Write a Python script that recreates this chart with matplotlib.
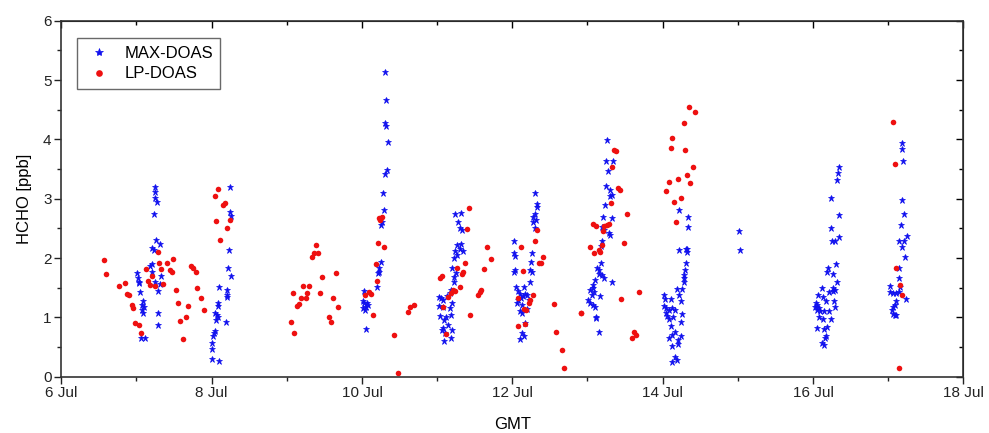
import numpy as np
import matplotlib.pyplot as plt
from matplotlib.ticker import MultipleLocator

plt.rcParams['font.family'] = ['Liberation Sans', 'DejaVu Sans']

# day of July (GMT) and HCHO in ppb
max_day = [7.25, 7.25, 7.24, 7.27, 7.23, 7.26, 7.31, 7.21, 7.23, 7.21, 7.18, 7.20, 7.01, 7.33, 7.02,
           7.04, 7.03, 7.24, 7.31, 7.28, 7.05, 7.09, 7.07, 7.10, 7.08, 7.09, 7.29, 7.29, 7.06, 7.11,
           8.25, 8.24, 8.26, 8.23, 8.22, 8.26, 8.10, 8.21, 8.20, 8.20, 8.08, 8.08, 8.05, 8.07, 8.09,
           8.06, 8.19, 8.04, 8.03, 8.02, 8.00, 8.01, 8.00, 8.10,
           10.31, 10.32, 10.30, 10.32, 10.34, 10.33, 10.30, 10.28, 10.29, 10.26, 10.25, 10.25, 10.22,
           10.23, 10.21, 10.20, 10.03, 10.01, 10.03, 10.07, 10.05, 10.08, 10.02, 10.04, 10.05,
           11.24, 11.32, 11.28, 11.31, 11.33, 11.32, 11.26, 11.30, 11.24, 11.34, 11.26, 11.23, 11.20,
           11.25, 11.23, 11.22, 11.18, 11.17, 11.02, 11.05, 11.08, 11.13, 11.20, 11.03, 11.08, 11.17,
           11.04, 11.12, 11.09, 11.18, 11.08, 11.15, 11.06, 11.10, 11.20, 11.09, 11.18,
           12.30, 12.33, 12.33, 12.30, 12.28, 12.32, 12.27, 12.30, 12.02, 12.02, 12.04, 12.26, 12.25,
           12.04, 12.02, 12.24, 12.26, 12.23, 12.05, 12.15, 12.07, 12.10, 12.14, 12.17, 12.19, 12.11,
           12.08, 12.22, 12.06, 12.13, 12.10, 12.13, 12.19, 12.17, 12.13, 12.15, 12.10,
           13.26, 13.25, 13.34, 13.27, 13.25, 13.30, 13.32, 13.30, 13.23, 13.21, 13.33, 13.20, 13.22,
           13.28, 13.30, 13.19, 13.18, 13.18, 13.13, 13.16, 13.15, 13.19, 13.22, 13.10, 13.32, 13.08,
           13.07, 13.04, 13.09, 13.06, 13.17, 13.01, 13.04, 13.07, 13.10, 13.12, 13.12, 13.15,
           14.22, 14.34, 14.34, 14.22, 14.31, 14.33, 14.32, 14.31, 14.30, 14.29, 14.28, 14.28, 14.19,
           14.26, 14.22, 14.24, 14.02, 14.03, 14.11, 14.02, 14.05, 14.09, 14.13, 14.16, 14.05, 14.06,
           14.09, 14.14, 14.26, 14.11, 14.24, 14.16, 14.08, 14.13, 14.25, 14.21, 14.20, 14.13, 14.16,
           14.19, 14.12,
           15.02, 15.03,
           16.34, 16.33, 16.32, 16.24, 16.35, 16.24, 16.25, 16.29, 16.35, 16.30, 16.20, 16.19, 16.27,
           16.32, 16.26, 16.29, 16.27, 16.22, 16.12, 16.07, 16.13, 16.17, 16.28, 16.04, 16.03, 16.06,
           16.08, 16.05, 16.29, 16.10, 16.15, 16.22, 16.08, 16.13, 16.24, 16.19, 16.05, 16.15, 16.17,
           16.16, 16.12, 16.15,
           17.19, 17.18, 17.20, 17.18, 17.21, 17.17, 17.25, 17.14, 17.21, 17.19, 17.22, 17.15, 17.14,
           17.03, 17.16, 17.02, 17.07, 17.10, 17.14, 17.24, 17.11, 17.09, 17.06, 17.05, 17.06, 17.09,
           17.11]
max_val = [3.19, 3.12, 3.01, 2.94, 2.74, 2.31, 2.24, 2.17, 2.14, 1.90, 1.86, 1.77, 1.74, 1.69, 1.66,
           1.60, 1.58, 1.59, 1.56, 1.45, 1.43, 1.27, 1.21, 1.18, 1.13, 1.07, 1.07, 0.88, 0.65, 0.65,
           3.19, 2.77, 2.71, 2.13, 1.84, 1.69, 1.51, 1.47, 1.38, 1.35, 1.25, 1.19, 1.07, 1.04, 1.00,
           0.96, 0.93, 0.77, 0.73, 0.69, 0.56, 0.46, 0.30, 0.27,
           5.14, 4.67, 4.27, 4.22, 3.95, 3.49, 3.41, 3.10, 2.81, 2.61, 2.56, 1.93, 1.83,
           1.77, 1.74, 1.51, 1.45, 1.27, 1.24, 1.24, 1.18, 1.21, 1.15, 1.13, 0.80,
           2.74, 2.76, 2.60, 2.51, 2.47, 2.24, 2.22, 2.15, 2.12, 2.12, 2.05, 2.00, 1.84,
           1.75, 1.68, 1.59, 1.46, 1.41, 1.34, 1.32, 1.30, 1.36, 1.24, 1.19, 1.18, 1.15,
           1.02, 1.01, 0.95, 1.04, 0.82, 0.87, 0.79, 0.74, 0.78, 0.61, 0.66,
           3.10, 2.91, 2.86, 2.74, 2.70, 2.64, 2.60, 2.50, 2.29, 2.09, 2.04, 2.08, 1.94,
           1.80, 1.76, 1.80, 1.76, 1.60, 1.51, 1.51, 1.45, 1.40, 1.36, 1.40, 1.38, 1.32,
           1.29, 1.29, 1.25, 1.21, 1.10, 1.07, 1.14, 0.90, 0.73, 0.68, 0.63,
           3.99, 3.64, 3.63, 3.46, 3.22, 3.15, 3.06, 3.05, 2.90, 2.70, 2.68, 2.53, 2.47,
           2.42, 2.39, 2.28, 2.20, 1.91, 1.84, 1.80, 1.73, 1.72, 1.66, 1.63, 1.59, 1.55,
           1.49, 1.46, 1.43, 1.38, 1.36, 1.29, 1.24, 1.21, 1.18, 1.01, 0.99, 0.75,
           2.81, 2.70, 2.53, 2.14, 2.15, 2.16, 2.11, 1.91, 1.80, 1.72, 1.67, 1.59, 1.48,
           1.48, 1.38, 1.28, 1.37, 1.31, 1.31, 1.20, 1.15, 1.12, 1.15, 1.12, 1.07, 1.03,
           0.97, 1.01, 1.06, 0.86, 0.92, 0.76, 0.65, 0.70, 0.68, 0.62, 0.55, 0.51, 0.34,
           0.28, 0.25,
           2.45, 2.14,
           3.53, 3.44, 3.32, 3.02, 2.73, 2.50, 2.28, 2.28, 2.35, 1.90, 1.83, 1.77, 1.73,
           1.59, 1.49, 1.47, 1.45, 1.43, 1.49, 1.38, 1.35, 1.27, 1.27, 1.24, 1.18, 1.21,
           1.15, 1.13, 1.17, 1.10, 1.10, 1.10, 1.01, 0.98, 0.97, 0.84, 0.82, 0.80, 0.69,
           0.65, 0.57, 0.53,
           3.94, 3.84, 3.63, 2.98, 2.74, 2.56, 2.38, 2.28, 2.28, 2.19, 2.02, 1.84, 1.66,
           1.53, 1.52, 1.43, 1.41, 1.41, 1.42, 1.31, 1.27, 1.21, 1.18, 1.12, 1.06, 1.04,
           1.04]

lp_day = [6.57, 6.60, 6.77, 6.85, 6.87, 6.90, 6.94, 6.96, 6.98, 7.04, 7.06, 7.12, 7.15, 7.18, 7.21,
          7.25, 7.28, 7.30, 7.32, 7.35, 7.41, 7.44, 7.47, 7.49, 7.52, 7.55, 7.58, 7.62, 7.66, 7.68,
          7.72, 7.75, 7.79, 7.81, 7.86, 7.90,
          8.08, 8.04, 8.15, 8.18, 8.06, 8.24, 8.21, 8.11,
          9.39, 9.36, 9.41, 9.33, 9.47, 9.65, 9.21, 9.30, 9.08, 9.27, 9.44, 9.19, 9.25, 9.16, 9.13,
          9.62, 9.68, 9.56, 9.59, 9.05, 9.10,
          10.23, 10.26, 10.24, 10.21, 10.29, 10.18, 10.20, 10.10, 10.12, 10.04, 10.15, 10.43, 10.48,
          10.61, 10.64, 10.69,
          11.42, 11.40, 11.37, 11.35, 11.33, 11.27, 11.30, 11.06, 11.04, 11.21, 11.24, 11.18, 11.15,
          11.08, 11.44, 11.12, 11.67, 11.72, 11.63, 11.59, 11.57, 11.55,
          12.33, 12.30, 12.11, 12.41, 12.38, 12.36, 12.14, 12.27, 12.24, 12.22, 12.08, 12.16, 12.18,
          12.07, 12.17, 12.56, 12.58, 12.66, 12.69, 12.92,
          13.35, 13.38, 13.33, 13.40, 13.43, 13.31, 13.52, 13.07, 13.12, 13.26, 13.28, 13.22, 13.21,
          13.49, 13.04, 13.09, 13.15, 13.17, 13.19, 13.68, 13.45, 12.92, 13.62, 13.65, 13.59,
          14.35, 14.43, 14.28, 14.13, 14.11, 14.30, 14.40, 14.32, 14.20, 14.37, 14.08, 14.05, 14.24,
          14.15, 14.18,
          17.06, 17.09, 17.11, 17.16, 17.19, 17.14]
lp_val = [1.97, 1.73, 1.53, 1.58, 1.40, 1.38, 1.21, 1.15, 0.91, 0.87, 0.74, 1.82, 1.62, 1.55, 1.69,
          1.53, 2.11, 1.91, 1.82, 1.56, 1.92, 1.80, 1.76, 1.99, 1.46, 1.24, 0.94, 0.63, 1.00, 1.19,
          1.86, 1.83, 1.76, 1.49, 1.32, 1.13,
          3.17, 3.04, 2.90, 2.92, 2.63, 2.64, 2.51, 2.31,
          2.22, 2.09, 2.09, 2.01, 1.68, 1.75, 1.53, 1.53, 1.41, 1.41, 1.41, 1.33, 1.33, 1.23, 1.19,
          1.33, 1.17, 1.00, 0.93, 0.92, 0.73,
          2.67, 2.69, 2.64, 2.26, 2.19, 1.90, 1.62, 1.43, 1.39, 1.37, 1.04, 0.71, 0.06,
          1.09, 1.18, 1.21,
          2.84, 2.49, 1.91, 1.77, 1.73, 1.83, 1.52, 1.70, 1.66, 1.46, 1.45, 1.41, 1.35,
          1.18, 1.04, 0.72, 2.18, 1.98, 1.82, 1.46, 1.42, 1.38,
          2.47, 2.29, 2.18, 2.01, 1.92, 1.92, 1.79, 1.37, 1.29, 1.24, 1.32, 1.14, 1.13,
          0.86, 0.89, 1.22, 0.75, 0.45, 0.14, 1.07,
          3.83, 3.80, 3.54, 3.18, 3.15, 2.92, 2.74, 2.58, 2.54, 2.56, 2.57, 2.54, 2.46,
          2.25, 2.19, 2.09, 2.14, 2.11, 2.22, 1.42, 1.31, 1.08, 0.75, 0.70, 0.65,
          4.54, 4.46, 4.27, 4.02, 3.85, 3.82, 3.54, 3.40, 3.33, 3.26, 3.29, 3.13, 3.01,
          2.94, 2.61,
          4.30, 3.59, 1.83, 1.55, 1.38, 0.14]

day_ticks = [6, 8, 10, 12, 14, 16, 18]
day_labels = ['6 Jul', '8 Jul', '10 Jul', '12 Jul', '14 Jul', '16 Jul', '18 Jul']

fig = plt.figure(figsize=(9.89, 4.33), dpi=100)
ax = fig.add_axes([0.062, 0.130, 0.912, 0.822])

ax.plot(max_day, max_val, linestyle='none', marker='*', color='#1010ee',
        markersize=5, markeredgewidth=0.5, label='MAX-DOAS')
ax.plot(lp_day, lp_val, linestyle='none', marker='o', color='#ee1010',
        markersize=4, markeredgewidth=0, label='LP-DOAS')

ax.set_xlim(6, 18)
ax.set_ylim(0, 6)
ax.set_xticks(day_ticks)
ax.set_xticklabels(day_labels)
ax.xaxis.set_minor_locator(MultipleLocator(1))
ax.yaxis.set_minor_locator(MultipleLocator(0.5))
ax.tick_params(which='major', direction='out', length=5, width=1, labelsize=11,
               colors='#222222', pad=2)
ax.tick_params(which='minor', direction='out', length=3, width=1, colors='#222222')

# mirrored ticks on top and right, pointing inward
top = ax.secondary_xaxis('top')
top.set_xticks(day_ticks)
top.xaxis.set_minor_locator(MultipleLocator(1))
top.tick_params(which='major', direction='in', length=5, width=1, labeltop=False)
top.tick_params(which='minor', direction='in', length=3, width=1)
right = ax.secondary_yaxis('right')
right.yaxis.set_minor_locator(MultipleLocator(0.5))
right.tick_params(which='major', direction='in', length=5, width=1, labelright=False)
right.tick_params(which='minor', direction='in', length=3, width=1)

for s in ax.spines.values():
    s.set_linewidth(1.2)
    s.set_color('#333333')

ax.set_xlabel('GMT', fontsize=12, labelpad=12)
ax.set_ylabel('HCHO [ppb]', fontsize=12, labelpad=8)

leg = ax.legend(loc='upper left', bbox_to_anchor=(0.008, 0.975), fancybox=False,
                edgecolor='#444444', fontsize=12, handletextpad=0.6, handlelength=1.8,
                borderpad=0.45, labelspacing=0.35, markerscale=1.2)
leg.get_frame().set_linewidth(1.0)

fig.savefig('out.png', dpi=100)
